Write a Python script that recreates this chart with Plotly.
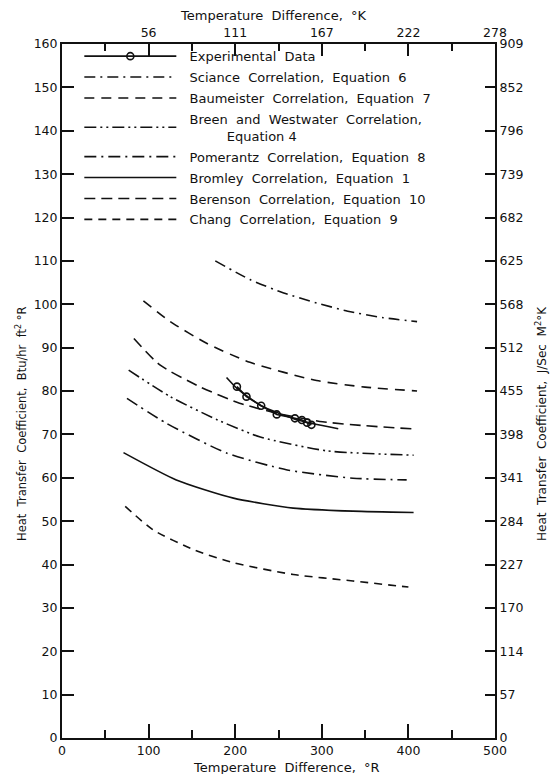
import plotly.graph_objects as go

# ---------------- data ----------------
x_tick_vals = [0, 100, 200, 300, 400, 500]
x_tick_labels = ["0", "100", "200", "300", "400", "500"]
top_tick_vals = [100, 200, 300, 400, 500]
top_tick_labels = ["56", "111", "167", "222", "278"]
y_tick_vals = [0, 10, 20, 30, 40, 50, 60, 70, 80, 90, 100, 110, 120, 130, 140, 150, 160]
y_tick_labels = ["0", "10", "20", "30", "40", "50", "60", "70", "80", "90", "100",
                 "110", "120", "130", "140", "150", "160"]
right_tick_labels = ["0", "57", "114", "170", "227", "284", "341", "398", "455", "512",
                     "568", "625", "682", "739", "796", "852", "909"]

exp_x = [202, 213, 230, 248, 269, 277, 283, 288]
exp_y = [81.0, 78.7, 76.6, 74.6, 73.7, 73.3, 72.7, 72.2]
exp_fit_x = [190, 202, 230, 269, 319]
exp_fit_y = [83.1, 80.6, 76.6, 73.5, 71.3]

sciance_x = [177, 217, 256, 294, 330, 371, 410]
sciance_y = [110.0, 105.7, 102.6, 100.3, 98.4, 96.9, 96.0]

baumeister_x = [94, 125, 167, 217, 294, 350, 410]
baumeister_y = [100.8, 96.0, 91.0, 86.6, 82.4, 80.9, 80.0]

breen_x = [77, 125, 180, 229, 306, 406]
breen_y = [84.8, 78.7, 73.3, 69.4, 66.2, 65.2]

pomerantz_x = [75, 121, 190, 260, 336, 398]
pomerantz_y = [78.3, 72.5, 65.7, 61.8, 59.9, 59.5]

bromley_x = [71, 132, 198, 267, 336, 406]
bromley_y = [65.8, 59.5, 55.3, 53.0, 52.3, 52.0]

berenson_x = [83, 113, 159, 205, 250, 301, 350, 410]
berenson_y = [92.1, 86.0, 81.0, 77.2, 74.8, 72.9, 72.0, 71.2]

chang_x = [73, 105, 152, 198, 267, 336, 400]
chang_y = [53.4, 48.0, 43.4, 40.4, 37.7, 36.2, 34.8]

FONT = "DejaVu Sans"
BLACK = "#111111"
NB = "\u00a0"
SP = NB + " "   # wide word gap
LEAD = NB * 2   # gap between legend sample and text

fig = go.Figure()

fig.add_trace(go.Scatter(
    x=exp_x, y=exp_y, mode="lines+markers", name=LEAD + "Experimental" + SP + "Data",
    legendgroup="g0",
    line=dict(color=BLACK, width=1.6),
    marker=dict(symbol="circle-open", size=7, color=BLACK, line=dict(width=1.6)),
))
fig.add_trace(go.Scatter(
    x=exp_fit_x, y=exp_fit_y, mode="lines", showlegend=False, legendgroup="g0",
    line=dict(color=BLACK, width=1.6, shape="spline", smoothing=0.6),
))

curves = [
    ("Sciance" + SP + "Correlation," + SP + "Equation" + SP + "6",
     sciance_x, sciance_y, "11px,5px,2px,5px"),
    ("Baumeister" + SP + "Correlation," + SP + "Equation" + SP + "7",
     baumeister_x, baumeister_y, "10px,7px"),
    ("Breen" + SP + "and" + SP + "Westwater" + SP + "Correlation,<br>" + LEAD + NB * 9 +
     "Equation" + NB + "4", breen_x, breen_y, "12px,4px,2px,4px,2px,4px"),
    ("Pomerantz" + SP + "Correlation," + SP + "Equation" + SP + "8",
     pomerantz_x, pomerantz_y, "12px,5px,2px,5px"),
    ("Bromley" + SP + "Correlation," + SP + "Equation" + SP + "1",
     bromley_x, bromley_y, "solid"),
    ("Berenson" + SP + "Correlation," + SP + "Equation" + SP + "10",
     berenson_x, berenson_y, "11px,6px"),
    ("Chang" + SP + "Correlation," + SP + "Equation" + SP + "9",
     chang_x, chang_y, "8px,6px"),
]
for i, (name, xs, ys, dash) in enumerate(curves):
    fig.add_trace(go.Scatter(
        x=xs, y=ys, mode="lines", name=LEAD + name, legendgroup="g%d" % (i + 1),
        line=dict(color=BLACK, width=1.6, dash=dash, shape="spline", smoothing=0.6),
    ))

# invisible trace to activate the secondary axes
fig.add_trace(go.Scatter(x=[None], y=[None], xaxis="x2", yaxis="y2",
                         showlegend=False, hoverinfo="skip"))

axis_common = dict(showgrid=False, zeroline=False, showline=True, linecolor=BLACK,
                   linewidth=2, ticks="inside", tickcolor=BLACK, tickwidth=1.5,
                   tickfont=dict(family=FONT, size=12.5, color=BLACK))

fig.update_layout(
    width=554, height=774,
    margin=dict(l=62, r=59, t=44, b=36),
    paper_bgcolor="white", plot_bgcolor="white",
    font=dict(family=FONT, size=12, color=BLACK),
    xaxis=dict(range=[0, 500], tickvals=x_tick_vals, ticktext=x_tick_labels,
               ticklen=14, minor=dict(dtick=50, tick0=0, ticks="inside", ticklen=8,
                                      tickcolor=BLACK, tickwidth=1.5),
               **axis_common),
    yaxis=dict(range=[0, 160], tickvals=y_tick_vals, ticktext=y_tick_labels,
               ticklen=12, **axis_common),
    xaxis2=dict(range=[0, 500], overlaying="x", side="top", anchor="y",
                tickvals=top_tick_vals, ticktext=top_tick_labels, ticklen=12,
                minor=dict(dtick=50, tick0=0, ticks="inside", ticklen=7,
                           tickcolor=BLACK, tickwidth=1.5),
                **axis_common),
    yaxis2=dict(range=[0, 160], overlaying="y", side="right", anchor="x",
                tickvals=y_tick_vals, ticktext=right_tick_labels, ticklen=10,
                **axis_common),
    legend=dict(x=0.04, y=1.004, xanchor="left", yanchor="top",
                bgcolor="rgba(0,0,0,0)", itemwidth=92, tracegroupgap=1,
                font=dict(family=FONT, size=13, color=BLACK)),
    showlegend=True,
)

fig.add_annotation(text="Temperature" + SP + "Difference," + SP + "\u00b0R",
                   xref="paper", yref="paper",
                   x=(286 - 62) / 433, y=-(767 - 738) / 694, xanchor="center",
                   yanchor="middle", showarrow=False,
                   font=dict(family=FONT, size=13, color=BLACK))
fig.add_annotation(text="Temperature" + SP + "Difference," + SP + "\u00b0K",
                   xref="paper", yref="paper",
                   x=(273 - 62) / 433, y=1 + (44 - 15) / 694, xanchor="center",
                   yanchor="middle", showarrow=False,
                   font=dict(family=FONT, size=13, color=BLACK))
fig.add_annotation(text="Heat" + SP + "Transfer" + SP + "Coefficient," + SP +
                   "Btu/hr" + SP + "ft<sup>2</sup> \u00b0R",
                   xref="paper", yref="paper", x=-(62 - 22) / 433, y=1 - (424 - 44) / 694,
                   textangle=-90, xanchor="center", yanchor="middle", showarrow=False,
                   font=dict(family=FONT, size=11.5, color=BLACK))
fig.add_annotation(text="Heat" + SP + "Transfer" + SP + "Coefficient," + SP +
                   "J/Sec" + SP + "M<sup>2</sup>\u00b0K",
                   xref="paper", yref="paper", x=(541 - 62) / 433, y=1 - (424 - 44) / 694,
                   textangle=-90, xanchor="center", yanchor="middle", showarrow=False,
                   font=dict(family=FONT, size=12, color=BLACK))

fig.write_html("out.html",
               config={"displayModeBar": False},
               post_script="document.body.style.margin='0';"
                           "document.body.style.overflow='hidden';")
